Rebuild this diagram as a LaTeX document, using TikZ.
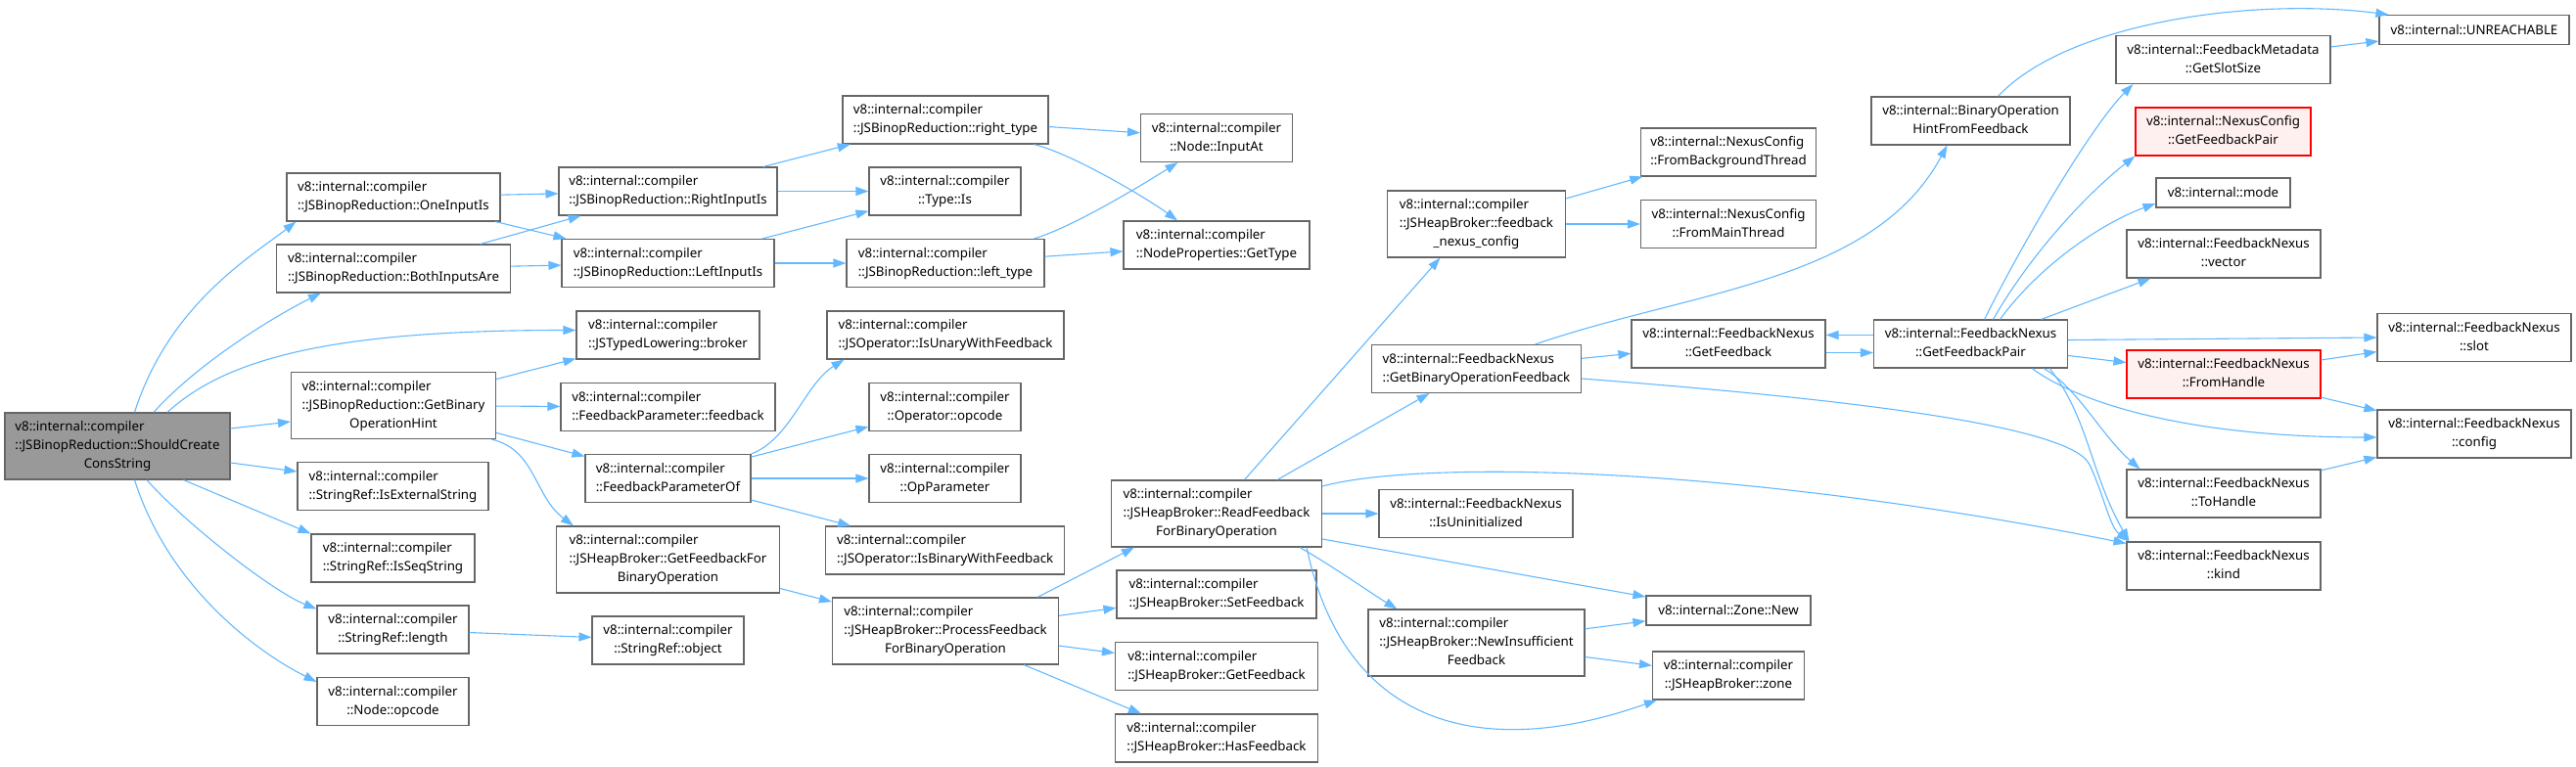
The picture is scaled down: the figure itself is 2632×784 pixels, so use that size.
\documentclass[tikz,border=0pt]{standalone}
\usepackage{fontspec}
\setmainfont{Noto Sans}
\usetikzlibrary{arrows.meta}
\definecolor{edgeblue}{HTML}{63B8FF}
\definecolor{boxgray}{HTML}{666666}
\definecolor{rootgray}{HTML}{999999}
\definecolor{missfill}{HTML}{FFF0F0}
% lines before the last one are set flush left, the last one centred
\newcommand{\fnlabel}[2]{\begin{tabular}{@{}l@{}}#1\\\multicolumn{1}{@{}c@{}}{#2}\end{tabular}}

\begin{document}
\begin{tikzpicture}[x=1pt, y=-1pt,
    fn/.style={draw=boxgray, line width=1.1pt, fill=white, inner sep=0pt,
      font=\fontsize{13.3}{19}\selectfont, minimum height=49},
    h3/.style={minimum height=68},
    h1/.style={minimum height=30},
    missing/.style={draw=red, fill=missfill},
    call/.style={->, >={Triangle[length=13pt,width=9pt]}, draw=edgeblue, line width=1.1pt}]
    \useasboundingbox (0,0) rectangle (2632,784);

    % Caller
    \node[fn, h3, fill=rootgray, minimum width=230] (root) at (120,456)
        {\fnlabel{v8::internal::compiler\\::JSBinopReduction::ShouldCreate}{ConsString}};

    % First column
    \node[fn, minimum width=218] (oneinput) at (402,201.5) {\fnlabel{v8::internal::compiler}{::JSBinopReduction::OneInputIs}};
    \node[fn, minimum width=239] (bothinputs) at (402,274.5) {\fnlabel{v8::internal::compiler}{::JSBinopReduction::BothInputsAre}};
    \node[fn, h3, minimum width=209] (binhint) at (402,414.5) {\fnlabel{v8::internal::compiler\\::JSBinopReduction::GetBinary}{OperationHint}};
    \node[fn, minimum width=195] (isexternal) at (401.5,497) {\fnlabel{v8::internal::compiler}{::StringRef::IsExternalString}};
    \node[fn, minimum width=167] (isseq) at (401.5,570.5) {\fnlabel{v8::internal::compiler}{::StringRef::IsSeqString}};
    \node[fn, minimum width=155] (length) at (401.5,643.5) {\fnlabel{v8::internal::compiler}{::StringRef::length}};
    \node[fn, minimum width=155] (nodeopcode) at (401.5,717) {\fnlabel{v8::internal::compiler}{::Node::opcode}};

    % Second column
    \node[fn, minimum width=223] (rightinput) at (682.5,195.5) {\fnlabel{v8::internal::compiler}{::JSBinopReduction::RightInputIs}};
    \node[fn, minimum width=217] (leftinput) at (682.5,269) {\fnlabel{v8::internal::compiler}{::JSBinopReduction::LeftInputIs}};
    \node[fn, minimum width=187] (broker) at (682.5,342.5) {\fnlabel{v8::internal::compiler}{::JSTypedLowering::broker}};
    \node[fn, minimum width=219] (fbfeedback) at (682.5,416) {\fnlabel{v8::internal::compiler}{::FeedbackParameter::feedback}};
    \node[fn, minimum width=169] (fbparamof) at (682.5,489) {\fnlabel{v8::internal::compiler}{::FeedbackParameterOf}};
    \node[fn, h3, minimum width=228] (getfbbinop) at (682.5,572) {\fnlabel{v8::internal::compiler\\::JSHeapBroker::GetFeedbackFor}{BinaryOperation}};
    \node[fn, minimum width=155] (strobject) at (682.5,654.5) {\fnlabel{v8::internal::compiler}{::StringRef::object}};

    % Third column
    \node[fn, minimum width=210] (righttype) at (966,122.5) {\fnlabel{v8::internal::compiler}{::JSBinopReduction::right\_type}};
    \node[fn, minimum width=155] (typeis) at (965.5,195.5) {\fnlabel{v8::internal::compiler}{::Type::Is}};
    \node[fn, minimum width=202] (lefttype) at (966,269) {\fnlabel{v8::internal::compiler}{::JSBinopReduction::left\_type}};
    \node[fn, minimum width=242] (isunary) at (966,342.5) {\fnlabel{v8::internal::compiler}{::JSOperator::IsUnaryWithFeedback}};
    \node[fn, minimum width=155] (opopcode) at (965.5,416) {\fnlabel{v8::internal::compiler}{::Operator::opcode}};
    \node[fn, minimum width=155] (opparam) at (965.5,489) {\fnlabel{v8::internal::compiler}{::OpParameter}};
    \node[fn, minimum width=244] (isbinary) at (965.7,562.5) {\fnlabel{v8::internal::compiler}{::JSOperator::IsBinaryWithFeedback}};
    \node[fn, h3, minimum width=231] (processfb) at (966,645) {\fnlabel{v8::internal::compiler\\::JSHeapBroker::ProcessFeedback}{ForBinaryOperation}};

    % Fourth column
    \node[fn, minimum width=155] (inputat) at (1243,141) {\fnlabel{v8::internal::compiler}{::Node::InputAt}};
    \node[fn, minimum width=190] (gettype) at (1243,250.5) {\fnlabel{v8::internal::compiler}{::NodeProperties::GetType}};
    \node[fn, h3, minimum width=215] (readfb) at (1243,525) {\fnlabel{v8::internal::compiler\\::JSHeapBroker::ReadFeedback}{ForBinaryOperation}};
    \node[fn, minimum width=204] (setfb) at (1243,607.5) {\fnlabel{v8::internal::compiler}{::JSHeapBroker::SetFeedback}};
    \node[fn, minimum width=207] (getfb) at (1243,681) {\fnlabel{v8::internal::compiler}{::JSHeapBroker::GetFeedback}};
    \node[fn, minimum width=207] (hasfb) at (1243,754.5) {\fnlabel{v8::internal::compiler}{::JSHeapBroker::HasFeedback}};

    % Fifth column
    \node[fn, h3, minimum width=182] (nexusconfig) at (1508.5,229) {\fnlabel{v8::internal::compiler\\::JSHeapBroker::feedback}{\_nexus\_config}};
    \node[fn, minimum width=214] (getbinopfb) at (1508.5,377) {\fnlabel{v8::internal::FeedbackNexus}{::GetBinaryOperationFeedback}};
    \node[fn, minimum width=198] (isuninit) at (1508,525) {\fnlabel{v8::internal::FeedbackNexus}{::IsUninitialized}};
    \node[fn, h3, minimum width=221] (newinsuff) at (1508.5,657) {\fnlabel{v8::internal::compiler\\::JSHeapBroker::NewInsufficient}{Feedback}};

    % Sixth column
    \node[fn, minimum width=179] (frombg) at (1766,155.5) {\fnlabel{v8::internal::NexusConfig}{::FromBackgroundThread}};
    \node[fn, minimum width=179] (frommain) at (1766,229) {\fnlabel{v8::internal::NexusConfig}{::FromMainThread}};
    \node[fn, minimum width=198] (nexusgetfb) at (1766,351.5) {\fnlabel{v8::internal::FeedbackNexus}{::GetFeedback}};
    \node[fn, h1, minimum width=168] (zonenew) at (1766,624) {v8::internal::Zone::New};
    \node[fn, minimum width=155] (brokerzone) at (1766,690.5) {\fnlabel{v8::internal::compiler}{::JSHeapBroker::zone}};

    % Seventh column
    \node[fn, minimum width=203] (binophint) at (2013.5,123.5) {\fnlabel{v8::internal::BinaryOperation}{HintFromFeedback}};
    \node[fn, minimum width=198] (getfbpair) at (2013.5,351.5) {\fnlabel{v8::internal::FeedbackNexus}{::GetFeedbackPair}};

    % Eighth column
    \node[fn, minimum width=219] (slotsize) at (2271.5,61) {\fnlabel{v8::internal::FeedbackMetadata}{::GetSlotSize}};
    \node[fn, missing, minimum width=179] (ncfbpair) at (2271.5,134.5) {\fnlabel{v8::internal::NexusConfig}{::GetFeedbackPair}};
    \node[fn, h1, minimum width=137] (mode) at (2271.5,197) {v8::internal::mode};
    \node[fn, minimum width=198] (vector) at (2272,259.5) {\fnlabel{v8::internal::FeedbackNexus}{::vector}};
    \node[fn, missing, minimum width=198] (fromhandle) at (2272,382.5) {\fnlabel{v8::internal::FeedbackNexus}{::FromHandle}};
    \node[fn, minimum width=198] (tohandle) at (2272,504.5) {\fnlabel{v8::internal::FeedbackNexus}{::ToHandle}};
    \node[fn, minimum width=198] (kind) at (2272,578.5) {\fnlabel{v8::internal::FeedbackNexus}{::kind}};

    % Ninth column
    \node[fn, h1, minimum width=194] (unreachable) at (2528,30.5) {v8::internal::UNREACHABLE};
    \node[fn, minimum width=198] (slot) at (2528,345) {\fnlabel{v8::internal::FeedbackNexus}{::slot}};
    \node[fn, minimum width=198] (config) at (2528,443.5) {\fnlabel{v8::internal::FeedbackNexus}{::config}};

    % Calls of the caller
    \draw[call] ([xshift=17.5pt]root.north) .. controls +(35,-110) and +(-45,35) .. ([xshift=10pt]oneinput.south west);
    \draw[call] ([xshift=37pt]root.north) .. controls +(45,-50) and +(-50,25) .. ([xshift=46pt]bothinputs.south west);
    \draw[call] ([xshift=51pt]root.north) .. controls +(60,-55) and +(-250,0) .. ([yshift=5pt]broker.west);
    \draw[call] ([yshift=18pt]root.east) -- ([yshift=-16.5pt]binhint.west);
    \draw[call] ([yshift=-17pt]root.east) -- ([yshift=15pt]isexternal.west);
    \draw[call] ([xshift=67.5pt]root.south) -- (isseq.north west);
    \draw[call] ([xshift=30pt]root.south) .. controls +(40,45) and +(-45,-18) .. ([yshift=-4pt]length.north west);
    \draw[call] ([xshift=17.5pt]root.south) .. controls +(35,110) and +(-60,-30) .. ([yshift=-5pt]nodeopcode.north west);

    % JSBinopReduction
    \draw[call] (oneinput) -- (rightinput);
    \draw[call] (oneinput) -- (leftinput);
    \draw[call] (bothinputs) -- (rightinput);
    \draw[call] (bothinputs) -- (leftinput);
    \draw[call] (rightinput) -- (righttype);
    \draw[call] (rightinput) -- (typeis);
    \draw[call] (leftinput) -- (typeis);
    \draw[call] (leftinput) -- (lefttype);
    \draw[call] (righttype) -- (inputat);
    \draw[call] ([xshift=-15pt]righttype.south east) .. controls +(40,10) and +(-30,-22) .. ([xshift=55.6pt]gettype.north west);
    \draw[call] ([xshift=-11pt]lefttype.north east) .. controls +(40,-12) and +(-35,22) .. ([xshift=38.5pt]inputat.south west);
    \draw[call] (lefttype) -- (gettype);

    % GetBinaryOperationHint
    \draw[call] (binhint) -- (broker);
    \draw[call] (binhint) -- (fbfeedback);
    \draw[call] (binhint) -- (fbparamof);
    \draw[call] ([xshift=-5pt]binhint.south east) .. controls +(45,10) and +(-40,-30) .. ([xshift=18pt]getfbbinop.north west);
    \draw[call] (fbparamof.north east) .. controls +(40,-15) and +(-40,25) .. ([xshift=18pt]isunary.south west);
    \draw[call] (fbparamof) -- (opopcode);
    \draw[call] (fbparamof) -- (opparam);
    \draw[call] (fbparamof) -- (isbinary);
    \draw[call] (getfbbinop) -- (processfb);
    \draw[call] (length) -- (strobject);

    % ProcessFeedbackForBinaryOperation
    \draw[call] ([xshift=-22pt]processfb.north east) -- ([xshift=24pt]readfb.south west);
    \draw[call] (processfb) -- (setfb);
    \draw[call] (processfb) -- (getfb);
    \draw[call] ([xshift=-36pt]processfb.south east) -- ([xshift=27pt]hasfb.north west);

    % ReadFeedbackForBinaryOperation
    \draw[call] ([xshift=28.5pt]readfb.north) -- ([xshift=-37pt]nexusconfig.south);
    \draw[call] ([xshift=62pt]readfb.north) -- ([xshift=-48pt]getbinopfb.south);
    \draw[call] (readfb) -- (isuninit);
    \draw[call] ([yshift=28pt]readfb.east) .. controls +(100,-27) and +(-400,-80) .. ([yshift=-2pt]kind.north west);
    \draw[call] ([xshift=-23pt]readfb.south east) .. controls +(35,20) and +(-25,-15) .. ([xshift=30pt]newinsuff.north west);
    \draw[call] ([yshift=-26pt]readfb.east) -- ([yshift=14pt]zonenew.west);
    \draw[call] ([xshift=-16pt]readfb.south east) .. controls +(40,190) and +(-170,60) .. ([xshift=5pt]brokerzone.south west);
    \draw[call] (newinsuff) -- (zonenew);
    \draw[call] (newinsuff) -- (brokerzone);
    \draw[call] (nexusconfig) -- (frombg);
    \draw[call] (nexusconfig) -- (frommain);

    % FeedbackNexus
    \draw[call] ([xshift=-47.5pt]getbinopfb.north east) .. controls +(160,-55) and +(-75,140) .. ([xshift=-24pt]binophint.south);
    \draw[call] (getbinopfb) -- (nexusgetfb);
    \draw[call] ([yshift=-10pt]getbinopfb.east) .. controls (1850,405) and (2115,432) .. (2135,475)
        .. controls +(15,32) and +(-20,-15) .. ([xshift=3pt]kind.north west);
    \draw[call] ([yshift=-9pt]nexusgetfb.east) -- ([yshift=-9pt]getfbpair.west);
    \draw[call] ([yshift=9pt]getfbpair.west) -- ([yshift=9pt]nexusgetfb.east);
    \draw[call] ([xshift=28pt]binophint.north) .. controls +(70,-75) and +(-140,-18) .. ([xshift=10pt]unreachable.north west);
    \draw[call] (slotsize) -- (unreachable);

    % GetFeedbackPair
    \draw[call] ([xshift=14pt]getfbpair.north) .. controls +(45,-90) and +(-40,40) .. ([xshift=18pt]slotsize.south west);
    \draw[call] ([xshift=23pt]getfbpair.north) .. controls +(40,-70) and +(-45,35) .. (ncfbpair.south west);
    \draw[call] ([xshift=30pt]getfbpair.north) .. controls +(40,-55) and +(-55,20) .. ([yshift=-11pt]mode.west);
    \draw[call] ([xshift=-27.5pt]getfbpair.north east) -- ([xshift=25pt]vector.south west);
    \draw[call] ([yshift=4pt]getfbpair.east) -- (slot.west);
    \draw[call] (getfbpair) -- (fromhandle);
    \draw[call] ([xshift=-37pt]getfbpair.south east) .. controls +(55,40) and +(-180,0) .. ([yshift=-3.5pt]config.west);
    \draw[call] ([xshift=-25pt]getfbpair.south east) .. controls +(35,20) and +(-40,-35) .. ([xshift=14pt]tohandle.north west);
    \draw[call] ([xshift=-19pt]getfbpair.south east) .. controls +(40,50) and +(-40,-70) .. ([xshift=3pt]kind.north west);
    \draw[call] (fromhandle) -- (slot);
    \draw[call] (fromhandle) -- (config);
    \draw[call] (tohandle) -- (config);
\end{tikzpicture}
\end{document}
